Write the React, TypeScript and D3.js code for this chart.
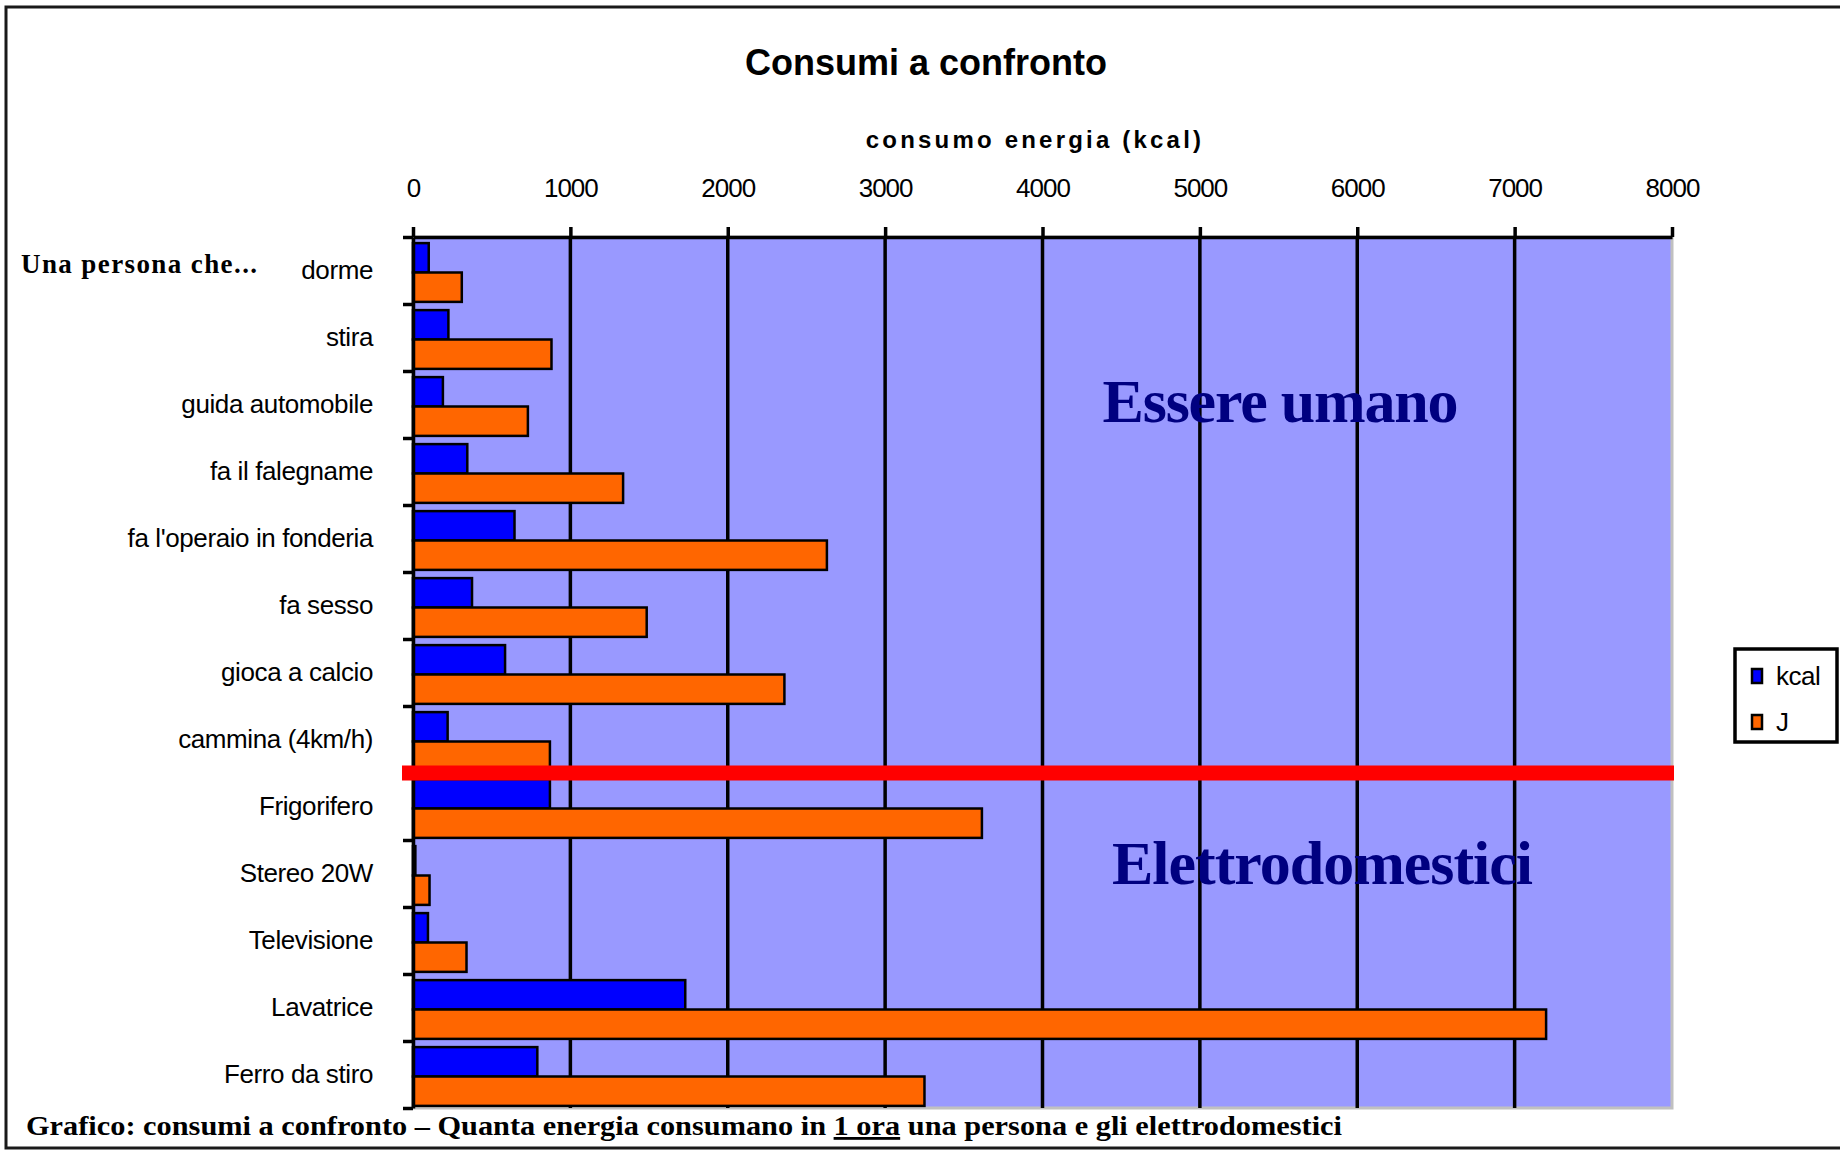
import React, { useEffect, useRef } from "react";
import * as d3 from "d3";

// activities (people) first, then household appliances
const categories = [
  "dorme",
  "stira",
  "guida automobile",
  "fa il falegname",
  "fa l'operaio in fonderia",
  "fa sesso",
  "gioca a calcio",
  "cammina (4km/h)",
  "Frigorifero",
  "Stereo 20W",
  "Televisione",
  "Lavatrice",
  "Ferro da stiro",
];
const kcal = [100, 225, 190, 345, 645, 375, 585, 220, 870, 15, 95, 1730, 790];
const joule = [310, 880, 730, 1335, 2630, 1485, 2360, 870, 3615, 105, 340, 7200, 3250];
const series = ["kcal", "J"];
const seriesColors = ["#0000ff", "#ff6600"];
const xTicks = [0, 1000, 2000, 3000, 4000, 5000, 6000, 7000, 8000];
const firstAppliance = "Frigorifero";

const sans = "'Liberation Sans', Arial, sans-serif";
const serif = "'Liberation Serif', 'Times New Roman', serif";

const ConsumiChart: React.FC = () => {
  const svgRef = useRef<SVGSVGElement | null>(null);

  useEffect(() => {
    if (!svgRef.current) return;

    const width = 1840;
    const height = 1151;
    const plot = { left: 413, right: 1672, top: 237, bottom: 1108 };

    d3.select(svgRef.current).selectAll("*").remove();
    const svg = d3
      .select(svgRef.current)
      .attr("width", width)
      .attr("height", height);

    const x = d3.scaleLinear().domain([0, 8000]).range([plot.left, plot.right]);
    const y = d3
      .scaleBand()
      .domain(categories)
      .range([plot.top, plot.bottom])
      .padding(0);
    const ySub = d3
      .scaleBand()
      .domain(series)
      .range([0, y.bandwidth()])
      .paddingInner(0)
      .paddingOuter(0.14);
    const yIndex = d3
      .scaleLinear()
      .domain([0, categories.length])
      .range([plot.top, plot.bottom]);

    // outer frame
    svg
      .append("rect")
      .attr("x", 6)
      .attr("y", 7)
      .attr("width", 1870)
      .attr("height", 1141)
      .attr("fill", "#fff")
      .attr("stroke", "#1a1a1a")
      .attr("stroke-width", 3);

    // title
    svg
      .append("text")
      .attr("x", 926)
      .attr("y", 75)
      .attr("text-anchor", "middle")
      .attr("font-family", sans)
      .attr("font-weight", "bold")
      .attr("font-size", 36)
      .text("Consumi a confronto");

    svg
      .append("text")
      .attr("x", 1035)
      .attr("y", 148)
      .attr("text-anchor", "middle")
      .attr("font-family", sans)
      .attr("font-weight", "bold")
      .attr("font-size", 24)
      .attr("letter-spacing", 3.2)
      .text("consumo energia (kcal)");

    // plot area
    svg
      .append("rect")
      .attr("x", plot.left)
      .attr("y", plot.top)
      .attr("width", plot.right - plot.left)
      .attr("height", plot.bottom - plot.top)
      .attr("fill", "#9999ff")
      .attr("stroke", "#c0c0c0")
      .attr("stroke-width", 3);

    // vertical gridlines
    svg
      .append("g")
      .selectAll("line")
      .data(xTicks.slice(1, -1))
      .join("line")
      .attr("x1", (d) => x(d))
      .attr("x2", (d) => x(d))
      .attr("y1", plot.top)
      .attr("y2", plot.bottom)
      .attr("stroke", "#000")
      .attr("stroke-width", 3.5);

    // bars
    const rows = categories.map((c, i) => ({ c, values: [kcal[i], joule[i]] }));
    const groups = svg
      .append("g")
      .selectAll("g")
      .data(rows)
      .join("g")
      .attr("transform", (d) => `translate(0,${y(d.c)! + 2})`);

    groups
      .selectAll("rect")
      .data((d) => d.values.map((v, k) => ({ v, k, s: series[k] })))
      .join("rect")
      .attr("x", x(0))
      .attr("y", (d) => ySub(d.s)!)
      .attr("width", (d) => x(d.v) - x(0))
      .attr("height", ySub.bandwidth())
      .attr("fill", (d) => seriesColors[d.k])
      .attr("stroke", "#000")
      .attr("stroke-width", 2.5);

    // top axis
    const xAxis = d3
      .axisTop(x)
      .tickValues(xTicks)
      .tickSize(10)
      .tickSizeOuter(0)
      .tickPadding(30)
      .tickFormat((d) => String(d));
    const gx = svg
      .append("g")
      .attr("transform", `translate(0,${plot.top})`)
      .call(xAxis);
    gx.select(".domain").attr("stroke", "#000").attr("stroke-width", 3.5);
    gx.selectAll(".tick line").attr("stroke", "#000").attr("stroke-width", 3.5);
    gx.selectAll(".tick text")
      .attr("font-family", sans)
      .attr("font-size", 26)
      .attr("letter-spacing", -1)
      .attr("fill", "#000");

    // left axis: ticks on category boundaries
    const yAxis = d3
      .axisLeft(yIndex)
      .tickValues(d3.range(0, categories.length + 1))
      .tickSize(10)
      .tickSizeOuter(0)
      .tickFormat(() => "");
    const gy = svg
      .append("g")
      .attr("transform", `translate(${plot.left},0)`)
      .call(yAxis);
    gy.select(".domain").attr("stroke", "#000").attr("stroke-width", 3.5);
    gy.selectAll(".tick line").attr("stroke", "#000").attr("stroke-width", 3.5);

    // category labels
    svg
      .append("g")
      .selectAll("text")
      .data(categories)
      .join("text")
      .attr("x", 373)
      .attr("y", (d) => y(d)! + y.bandwidth() / 2 + 8)
      .attr("text-anchor", "end")
      .attr("font-family", sans)
      .attr("font-size", 26)
      .attr("letter-spacing", -0.4)
      .attr("fill", "#000")
      .text((d) => d);

    svg
      .append("text")
      .attr("x", 21)
      .attr("y", 273)
      .attr("font-family", serif)
      .attr("font-weight", "bold")
      .attr("font-size", 27)
      .attr("letter-spacing", 1.4)
      .text("Una persona che...");

    // separator between people and appliances
    svg
      .append("line")
      .attr("x1", plot.left - 11)
      .attr("x2", plot.right + 2)
      .attr("y1", y(firstAppliance)!)
      .attr("y2", y(firstAppliance)!)
      .attr("stroke", "#ff0000")
      .attr("stroke-width", 15);

    // group annotations
    svg
      .append("text")
      .attr("x", 1280)
      .attr("y", 422)
      .attr("text-anchor", "middle")
      .attr("font-family", serif)
      .attr("font-weight", "bold")
      .attr("font-size", 62)
      .attr("letter-spacing", -1.2)
      .attr("fill", "#000080")
      .text("Essere umano");

    svg
      .append("text")
      .attr("x", 1322)
      .attr("y", 884)
      .attr("text-anchor", "middle")
      .attr("font-family", serif)
      .attr("font-weight", "bold")
      .attr("font-size", 62)
      .attr("letter-spacing", -1)
      .attr("fill", "#000080")
      .text("Elettrodomestici");

    // legend
    const legend = svg.append("g").attr("transform", "translate(1735,649)");
    legend
      .append("rect")
      .attr("width", 102)
      .attr("height", 93)
      .attr("fill", "#fff")
      .attr("stroke", "#000")
      .attr("stroke-width", 3.5);
    series.forEach((s, i) => {
      const cy = 27 + i * 46;
      legend
        .append("rect")
        .attr("x", 17)
        .attr("y", cy - 7)
        .attr("width", 10)
        .attr("height", 14)
        .attr("fill", seriesColors[i])
        .attr("stroke", "#000")
        .attr("stroke-width", 2.5);
      legend
        .append("text")
        .attr("x", 41)
        .attr("y", cy + 9)
        .attr("font-family", sans)
        .attr("font-size", 26)
        .attr("letter-spacing", -0.5)
        .text(s);
    });

    // caption
    const caption = svg
      .append("text")
      .attr("x", 26)
      .attr("y", 1135)
      .attr("font-family", serif)
      .attr("font-weight", "bold")
      .attr("font-size", 28)
      .attr("textLength", 1316)
      .attr("lengthAdjust", "spacingAndGlyphs");
    caption
      .append("tspan")
      .text("Grafico: consumi a confronto – Quanta energia consumano in ");
    caption
      .append("tspan")
      .attr("text-decoration", "underline")
      .text("1 ora");
    caption.append("tspan").text(" una persona e gli elettrodomestici");
  }, []);

  return (
    <svg
      ref={svgRef}
      style={{ position: "absolute", left: 0, top: 0, display: "block" }}
    ></svg>
  );
};

export default function App() {
  return <ConsumiChart />;
}
